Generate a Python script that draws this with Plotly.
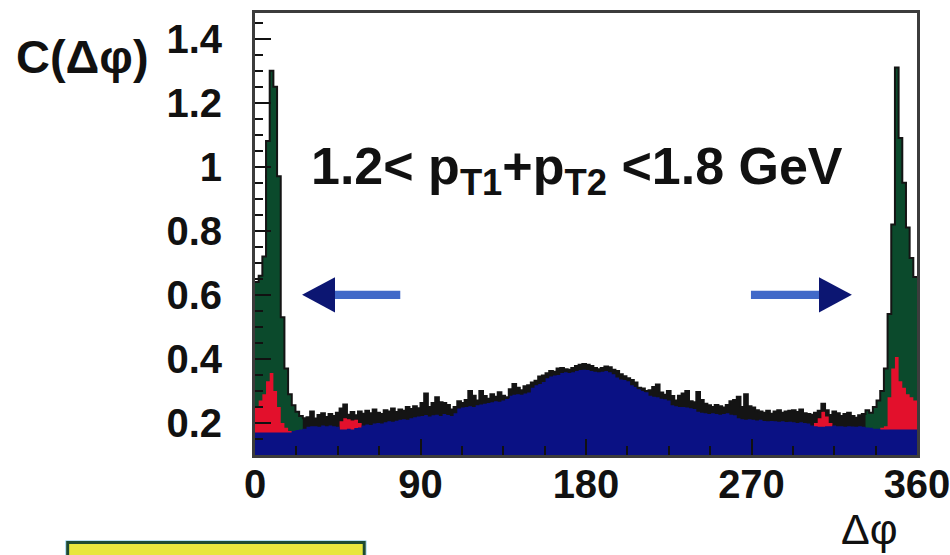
import plotly.graph_objects as go

# ---------------- data (2-degree bins, 0..360) ----------------
BIN_W = 2
bin_left = list(range(0, 360, BIN_W))

total = [
    0.640, 0.660, 0.720, 1.080, 1.300, 1.250, 0.970, 0.530, 0.370, 0.290,
    0.255, 0.235, 0.222, 0.215, 0.218, 0.236, 0.214, 0.225, 0.230, 0.219,
    0.228, 0.222, 0.232, 0.245, 0.258, 0.226, 0.234, 0.224, 0.236, 0.229,
    0.238, 0.230, 0.242, 0.232, 0.228, 0.240, 0.236, 0.245, 0.234, 0.242,
    0.238, 0.250, 0.244, 0.252, 0.246, 0.262, 0.292, 0.250, 0.262, 0.280,
    0.265, 0.262, 0.256, 0.242, 0.250, 0.268, 0.262, 0.272, 0.300, 0.285,
    0.270, 0.300, 0.284, 0.276, 0.290, 0.282, 0.296, 0.285, 0.280, 0.305,
    0.322, 0.310, 0.302, 0.315, 0.318, 0.326, 0.332, 0.345, 0.348, 0.355,
    0.362, 0.360, 0.370, 0.372, 0.368, 0.366, 0.372, 0.378, 0.382, 0.384,
    0.382, 0.378, 0.372, 0.368, 0.372, 0.376, 0.374, 0.366, 0.362, 0.352,
    0.346, 0.340, 0.334, 0.326, 0.310, 0.308, 0.300, 0.302, 0.312, 0.320,
    0.295, 0.288, 0.300, 0.284, 0.270, 0.285, 0.292, 0.300, 0.268, 0.265,
    0.297, 0.272, 0.260, 0.255, 0.250, 0.256, 0.252, 0.248, 0.256, 0.268,
    0.272, 0.282, 0.250, 0.290, 0.252, 0.248, 0.240, 0.236, 0.232, 0.238,
    0.229, 0.236, 0.240, 0.232, 0.236, 0.238, 0.240, 0.234, 0.242, 0.230,
    0.228, 0.226, 0.232, 0.238, 0.260, 0.240, 0.225, 0.236, 0.230, 0.222,
    0.228, 0.232, 0.222, 0.216, 0.224, 0.228, 0.240, 0.232, 0.250, 0.270,
    0.300, 0.370, 0.540, 0.820, 1.310, 1.090, 0.950, 0.810, 0.715, 0.656,
]

blue = [
    0.170, 0.170, 0.170, 0.170, 0.170, 0.170, 0.170, 0.170, 0.170, 0.170,
    0.175, 0.178, 0.180, 0.182, 0.188, 0.190, 0.190, 0.188, 0.192, 0.190,
    0.192, 0.190, 0.188, 0.180, 0.180, 0.182, 0.180, 0.184, 0.186, 0.192,
    0.195, 0.194, 0.198, 0.200, 0.198, 0.202, 0.205, 0.204, 0.207, 0.210,
    0.212, 0.210, 0.215, 0.218, 0.220, 0.222, 0.225, 0.220, 0.224, 0.226,
    0.222, 0.228, 0.225, 0.222, 0.230, 0.245, 0.248, 0.250, 0.252, 0.250,
    0.255, 0.258, 0.260, 0.262, 0.265, 0.268, 0.266, 0.270, 0.275, 0.285,
    0.288, 0.290, 0.288, 0.292, 0.295, 0.310, 0.318, 0.322, 0.328, 0.340,
    0.345, 0.348, 0.350, 0.356, 0.358, 0.356, 0.358, 0.362, 0.365, 0.366,
    0.365, 0.362, 0.360, 0.358, 0.360, 0.362, 0.358, 0.352, 0.342, 0.336,
    0.334, 0.330, 0.318, 0.312, 0.305, 0.300, 0.296, 0.285, 0.282, 0.280,
    0.276, 0.274, 0.270, 0.255, 0.252, 0.250, 0.250, 0.248, 0.246, 0.244,
    0.235, 0.232, 0.230, 0.228, 0.230, 0.228, 0.226, 0.228, 0.230, 0.226,
    0.224, 0.215, 0.212, 0.210, 0.212, 0.210, 0.208, 0.210, 0.206, 0.205,
    0.206, 0.205, 0.204, 0.205, 0.203, 0.204, 0.202, 0.200, 0.202, 0.200,
    0.198, 0.192, 0.190, 0.188, 0.188, 0.190, 0.190, 0.192, 0.190, 0.190,
    0.188, 0.190, 0.189, 0.188, 0.190, 0.188, 0.186, 0.185, 0.182, 0.182,
    0.180, 0.180, 0.180, 0.180, 0.180, 0.180, 0.180, 0.180, 0.180, 0.180,
]

# red component: (first bin index, values)
red_segments = [
    (0,   [0.250, 0.270, 0.290, 0.330, 0.356, 0.300, 0.250, 0.200, 0.185, 0.175]),
    (23,  [0.205, 0.215, 0.212, 0.208, 0.210, 0.200]),
    (152, [0.200, 0.215, 0.235, 0.220, 0.200]),
    (170, [0.185, 0.190, 0.280, 0.370, 0.406, 0.330, 0.310, 0.290, 0.280, 0.270]),
]
# green component: bin ranges where the near-side peak is drawn green
green_ranges = [(0, 13), (166, 180)]

x_ticks = [0, 90, 180, 270, 360]
y_ticks = [0.2, 0.4, 0.6, 0.8, 1.0, 1.2, 1.4]
y_tick_text = ["0.2", "0.4", "0.6", "0.8", "1", "1.2", "1.4"]

BLACK = "#141414"
GREEN = "#0b4a2c"
RED = "#e3102c"
BLUE = "#0a1184"


def steps(first, vals):
    xs = [bin_left[first + i] for i in range(len(vals))] + [bin_left[first + len(vals) - 1] + BIN_W]
    ys = list(vals) + [vals[-1]]
    return xs, ys


def filled(first, vals, color):
    xs, ys = steps(first, vals)
    return go.Scatter(x=xs, y=ys, mode="lines", line=dict(shape="hv", width=0, color=color),
                      fill="tozeroy", fillcolor=color, hoverinfo="skip")


fig = go.Figure()
fig.add_trace(filled(0, total, BLACK))
for a, b in green_ranges:
    fig.add_trace(filled(a, total[a:b], GREEN))
for first, vals in red_segments:
    fig.add_trace(filled(first, vals, RED))
fig.add_trace(filled(0, blue, BLUE))
xs, ys = steps(0, total)
fig.add_trace(go.Scatter(x=xs, y=ys, mode="lines", line=dict(shape="hv", width=2, color=BLACK),
                         hoverinfo="skip"))

FONT = "Liberation Sans, Arial, Helvetica, sans-serif"

fig.update_layout(
    width=950, height=555,
    margin=dict(l=255, r=33, t=13, b=100, autoexpand=False),
    plot_bgcolor="white", paper_bgcolor="white",
    showlegend=False,
    xaxis=dict(
        range=[0, 360], tickvals=x_ticks, ticktext=[str(v) for v in x_ticks],
        ticks="inside", ticklen=16, tickwidth=2, tickcolor="#111111",
        minor=dict(dtick=22.5, tick0=0, ticks="inside", ticklen=9, tickwidth=2, tickcolor="#111111"),
        showline=True, linecolor="#3c3c3c", linewidth=3, mirror=True,
        showgrid=False, zeroline=False, automargin=False,
        tickfont=dict(family=FONT, size=40, color="#111111", weight="bold"),
        ticklabelstandoff=-8, ticklabeloverflow="allow",
    ),
    yaxis=dict(
        range=[0.1, 1.48], tickvals=y_ticks, ticktext=y_tick_text,
        ticks="inside", ticklen=16, tickwidth=2, tickcolor="#111111",
        minor=dict(dtick=0.05, tick0=0, ticks="inside", ticklen=8, tickwidth=2, tickcolor="#111111"),
        showline=True, linecolor="#3c3c3c", linewidth=3, mirror=True,
        showgrid=False, zeroline=False, automargin=False,
        tickfont=dict(family=FONT, size=40, color="#111111", weight="bold"),
        ticklabelstandoff=22, ticklabeloverflow="allow",
    ),
    annotations=[
        dict(text="C(Δφ)", xref="paper", yref="paper", x=-0.2613, y=0.9005,
             xanchor="center", yanchor="middle", showarrow=False,
             font=dict(family=FONT, size=47, color="#111111", weight="bold")),
        dict(text="Δφ", xref="paper", yref="paper", x=0.929, y=-0.168,
             xanchor="center", yanchor="middle", showarrow=False,
             font=dict(family=FONT, size=43, color="#111111")),
        dict(text="1.2< p<sub>T1</sub>+p<sub>T2</sub> <1.8 GeV", xref="paper", yref="paper",
             x=0.4864, y=0.645, xanchor="center", yanchor="middle", showarrow=False,
             font=dict(family=FONT, size=52, color="#111111", weight="bold")),
    ],
    shapes=[
        # left arrow
        dict(type="rect", xref="x", yref="y", x0=43.0, x1=79.0, y0=0.587, y1=0.613,
             fillcolor="#4169c8", line=dict(width=0), layer="above"),
        dict(type="path", xref="x", yref="y", path="M 25.6,0.6 L 43.5,0.655 L 43.5,0.545 Z",
             fillcolor="#0c1672", line=dict(width=0), layer="above"),
        # right arrow
        dict(type="rect", xref="x", yref="y", x0=269.7, x1=307.2, y0=0.587, y1=0.613,
             fillcolor="#4169c8", line=dict(width=0), layer="above"),
        dict(type="path", xref="x", yref="y", path="M 324.6,0.6 L 306.7,0.655 L 306.7,0.545 Z",
             fillcolor="#0c1672", line=dict(width=0), layer="above"),
        # partially visible yellow box at the bottom
        dict(type="rect", xref="paper", yref="paper", x0=-0.286, x1=0.168, y0=-0.30, y1=-0.194,
             fillcolor="rgba(0,0,0,0)", line=dict(color="#a6d8f2", width=1)),
        dict(type="rect", xref="paper", yref="paper", x0=-0.283, x1=0.165, y0=-0.30, y1=-0.198,
             fillcolor="#e8e63e", line=dict(color="#1d4a33", width=3)),
    ],
)

fig.write_html("out.html")
